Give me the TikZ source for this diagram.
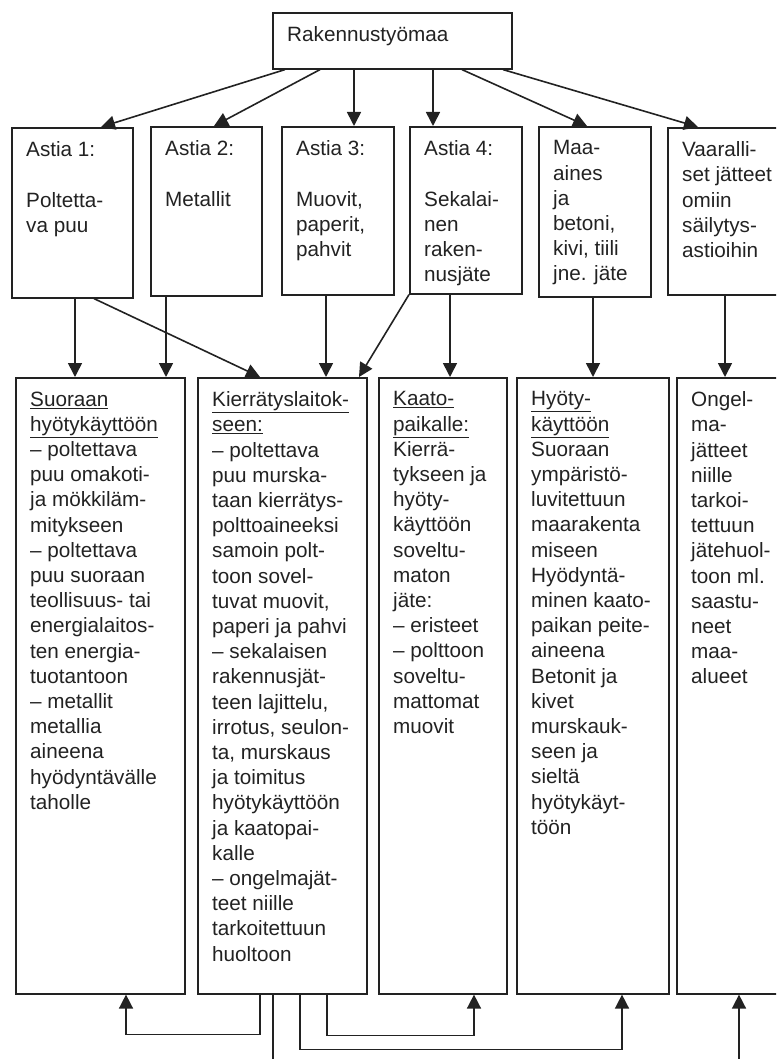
\documentclass[tikz,border=0pt]{standalone}
\usepackage{fontspec}
\setmainfont{Liberation Sans}
\usetikzlibrary{arrows.meta,positioning}
\definecolor{ink}{HTML}{222222}
\tikzset{frame/.style={draw=ink,line width=1.6pt,inner sep=0pt,anchor=north west},
 txt/.style={align=left,inner sep=0pt,text=ink,font=\fontsize{20.7}{25.2}\selectfont},
 arr/.style={-{Triangle[length=14pt,width=14pt]},line width=1.6pt,draw=ink}}
\newcommand{\hdr}[1]{\underline{#1}}

\begin{document}
\begin{tikzpicture}[x=1pt,y=-1pt,node distance=14.5pt and 15pt]
\useasboundingbox (0,0) rectangle (776,1059);
\clip (0,0) rectangle (776,1059);
% site
\node[frame,minimum width=239pt,minimum height=56pt] (top) at (272,12) {};
\node[txt,below right=of top.north west] (t-top) {Rakennustyömaa};
% containers
\node[frame,minimum width=121pt,minimum height=170pt] (a1) at (11,127) {};
\node[frame,minimum width=111pt,minimum height=169pt] (a2) at (150,126) {};
\node[frame,minimum width=112pt,minimum height=168pt] (a3) at (281,126) {};
\node[frame,minimum width=112pt,minimum height=167pt] (a4) at (409,126) {};
\node[frame,minimum width=112pt,minimum height=170pt] (maa) at (538,126) {};
\node[frame,minimum width=125pt,minimum height=167pt] (vaar) at (667,127) {};
\node[txt,below right=of a1.north west] (t-a1) {Astia 1:\\[25.2pt]Poltetta-\\va puu};
\node[txt,below right=of a2.north west] (t-a2) {Astia 2:\\[25.2pt]Metallit};
\node[txt,below right=of a3.north west] (t-a3) {Astia 3:\\[25.2pt]Muovit,\\paperit,\\pahvit};
\node[txt,below right=of a4.north west] (t-a4) {Astia 4:\\[25.2pt]Sekalai-\\nen\\raken-\\nusjäte};
\node[txt,below right=of maa.north west] (t-maa) {Maa-\\aines\\ja\\betoni,\\kivi, tiili\\jne. jäte};
\node[txt,below right=of vaar.north west] (t-vaar) {Vaaralli-\\set jätteet\\omiin\\säilytys-\\astioihin};
% destinations
\node[frame,minimum width=169pt,minimum height=616pt] (suo) at (15,377) {};
\node[frame,minimum width=169pt,minimum height=616pt] (kier) at (197,377) {};
\node[frame,minimum width=128pt,minimum height=616pt] (kaato) at (378,377) {};
\node[frame,minimum width=152pt,minimum height=616pt] (hyoty) at (516,377) {};
\node[frame,minimum width=125pt,minimum height=616pt] (ong) at (676,377) {};
\node[txt,below right=of suo.north west] (t-suo) {\hdr{Suoraan}\\\hdr{hyötykäyttöön}\\– poltettava\\puu omakoti-\\ja mökkiläm-\\mitykseen\\– poltettava\\puu suoraan\\teollisuus- tai\\energialaitos-\\ten energia-\\tuotantoon\\– metallit\\metallia\\aineena\\hyödyntävälle\\taholle};
\node[txt,below right=of kier.north west] (t-kier) {\hdr{Kierrätyslaitok-}\\\hdr{seen:}\\– poltettava\\puu murska-\\taan kierrätys-\\polttoaineeksi\\samoin polt-\\toon sovel-\\tuvat muovit,\\paperi ja pahvi\\– sekalaisen\\rakennusjät-\\teen lajittelu,\\irrotus, seulon-\\ta, murskaus\\ja toimitus\\hyötykäyttöön\\ja kaatopai-\\kalle\\– ongelmajät-\\teet niille\\tarkoitettuun\\huoltoon};
\node[txt,below right=of kaato.north west] (t-kaato) {\hdr{Kaato-}\\\hdr{paikalle:}\\Kierrä-\\tykseen ja\\hyöty-\\käyttöön\\soveltu-\\maton\\jäte:\\– eristeet\\– polttoon\\soveltu-\\mattomat\\muovit};
\node[txt,below right=of hyoty.north west] (t-hyoty) {\hdr{Hyöty-}\\\hdr{käyttöön}\\Suoraan\\ympäristö-\\luvitettuun\\maarakenta\\miseen\\Hyödyntä-\\minen kaato-\\paikan peite-\\aineena\\Betonit ja\\kivet\\murskauk-\\seen ja\\sieltä\\hyötykäyt-\\töön};
\node[txt,below right=of ong.north west] (t-ong) {Ongel-\\ma-\\jätteet\\niille\\tarkoi-\\tettuun\\jätehuol-\\toon ml.\\saastu-\\neet\\maa-\\alueet};
% site to containers
\draw[arr] (top.south -| 285,0) -- (a1.north -| 101,0);
\draw[arr] (top.south -| 320,0) -- (a2.north -| 214,0);
\draw[arr] (top.south -| 354,0) -- (a3.north -| 354,0);
\draw[arr] (top.south -| 433,0) -- (a4.north -| 433,0);
\draw[arr] (top.south -| 462,0) -- (maa.north -| 587,0);
\draw[arr] (top.south -| 503,0) -- (vaar.north -| 698,0);
% containers to destinations
\draw[arr] (a1.south -| 75,0) -- (suo.north -| 75,0);
\draw[arr] (a1.south -| 94,0) -- (kier.north -| 260,0);
\draw[arr] (a2.south -| 166,0) -- (suo.north -| 166,0);
\draw[arr] (a3.south -| 326,0) -- (kier.north -| 326,0);
\draw[arr] (a4.south west) -- (kier.north -| 359,0);
\draw[arr] (a4.south -| 450,0) -- (kaato.north -| 450,0);
\draw[arr] (maa.south -| 593,0) -- (hyoty.north -| 593,0);
\draw[arr] (vaar.south -| 725,0) -- (ong.north -| 725,0);
% onward from the recycling plant
\coordinate (cut1) at (273,1065);
\coordinate (cut2) at (739,1065);
\draw[arr] (kier.south -| 260,0) -- ++(0,40) -| (suo.south -| 126,0);
\draw[arr] (kier.south -| 327,0) -- ++(0,41) -| (kaato.south -| 474,0);
\draw[arr] (kier.south -| 300,0) -- ++(0,55) -| (hyoty.south -| 622,0);
\draw[line width=1.6pt,draw=ink] (kier.south -| 273,0) -- (cut1);
\draw[arr] (cut2) -- (ong.south -| 739,0);
\end{tikzpicture}
\end{document}
